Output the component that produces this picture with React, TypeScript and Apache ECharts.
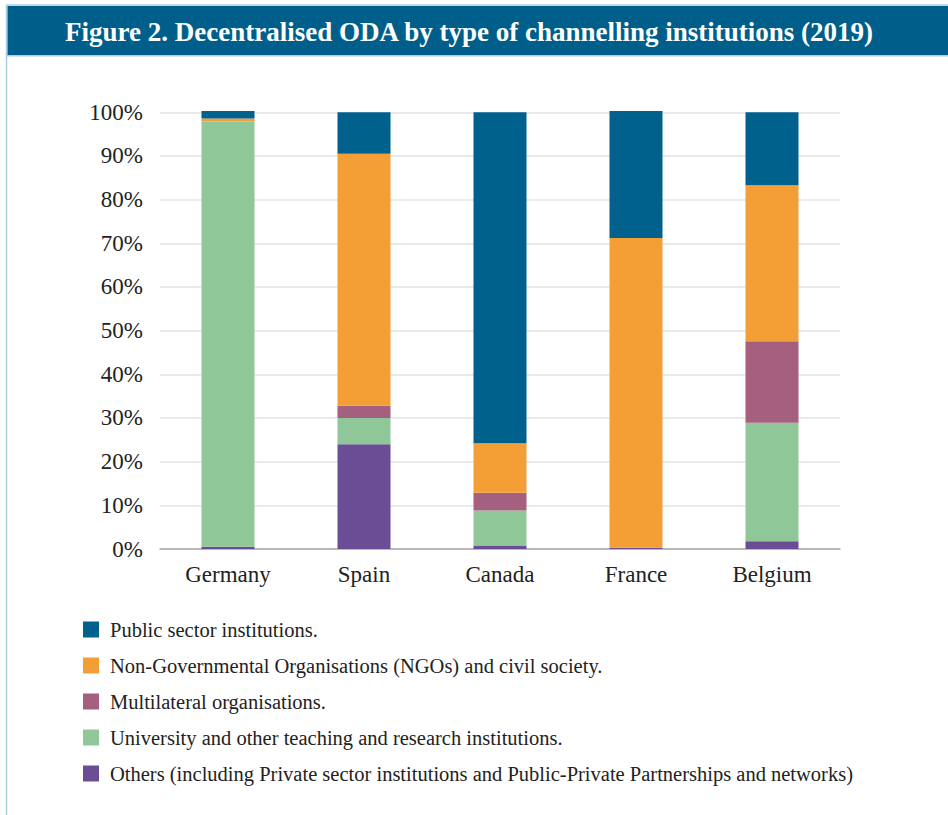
import React, { useEffect, useRef } from "react";
import * as echarts from "echarts";

const countries = ["Germany", "Spain", "Canada", "France", "Belgium"];
const yTicks = [0, 10, 20, 30, 40, 50, 60, 70, 80, 90, 100];

const seriesNames = [
  "Public sector institutions.",
  "Non-Governmental Organisations (NGOs) and civil society.",
  "Multilateral organisations.",
  "University and other teaching and research institutions.",
  "Others (including Private sector institutions and Public-Private Partnerships and networks)",
];

// values in % (stacked bottom → top: others, university, multilateral, NGO, public)
const othersValues = [0.5, 24.0, 0.8, 0.3, 1.8];
const universityValues = [97.4, 6.0, 8.0, 0.0, 27.1];
const multilateralValues = [0.0, 2.8, 4.1, 0.0, 18.7];
const ngoValues = [0.7, 57.7, 11.3, 70.9, 35.7];
const publicValues = [1.7, 9.5, 75.8, 29.1, 16.7];

const colors = {
  public: "#00618C",
  ngo: "#F49F35",
  multilateral: "#A6607F",
  university: "#8FC799",
  others: "#6A4D95",
};

const FONT = "'Liberation Serif', 'DejaVu Serif', serif";

export default function App() {
  const ref = useRef<HTMLDivElement>(null);

  useEffect(() => {
    document.body.style.margin = "0";
    const chart = echarts.init(ref.current!, undefined, { renderer: "svg" });
    const mk = (name: string, data: number[], color: string) => ({
      name,
      type: "bar",
      stack: "total",
      data,
      barWidth: 53,
      clip: false,
      itemStyle: { color },
      emphasis: { disabled: true },
    });
    chart.setOption({
      animation: false,
      backgroundColor: "#ffffff",
      textStyle: { fontFamily: FONT },
      graphic: [
        { type: "line", shape: { x1: 6.5, y1: 5, x2: 6.5, y2: 815 }, style: { stroke: "#a9cfe3", lineWidth: 1.5 } },
        { type: "line", shape: { x1: 6, y1: 5, x2: 948, y2: 5 }, style: { stroke: "#a9cfe3", lineWidth: 1.5 } },
        { type: "rect", shape: { x: 7.5, y: 6, width: 941, height: 49 }, style: { fill: "#005F8A" } },
        { type: "line", shape: { x1: 7, y1: 55.8, x2: 948, y2: 55.8 }, style: { stroke: "#a9cfe3", lineWidth: 1.5 } },
        {
          type: "text",
          x: 469,
          y: 32,
          style: {
            text: "Figure 2. Decentralised ODA by type of channelling institutions (2019)",
            fill: "#ffffff",
            font: `bold 27px ${FONT}`,
            align: "center",
            verticalAlign: "middle",
          },
        },
      ],
      grid: { left: 160, right: 108, top: 112.3, bottom: 266 },
      legend: {
        orient: "vertical",
        left: 83,
        top: 619,
        padding: 0,
        itemWidth: 16,
        itemHeight: 16,
        itemGap: 15,
        icon: "rect",
        data: seriesNames,
        selectedMode: false,
        textStyle: { fontFamily: FONT, fontSize: 20.5, color: "#222", padding: [0, 0, 0, 6] },
      },
      xAxis: {
        type: "category",
        data: countries,
        axisLine: { lineStyle: { color: "#a8a8a8", width: 1.5 } },
        axisTick: { show: false },
        axisLabel: { fontFamily: FONT, fontSize: 23, color: "#222", margin: 14 },
      },
      yAxis: {
        type: "value",
        min: yTicks[0],
        max: yTicks[yTicks.length - 1],
        interval: 10,
        axisLine: { show: false },
        axisTick: { show: false },
        axisLabel: { fontFamily: FONT, fontSize: 23, color: "#222", margin: 17, formatter: "{value}%" },
        splitLine: { lineStyle: { color: "#e3e3e3", width: 1.5 } },
      },
      series: [
        mk(seriesNames[4], othersValues, colors.others),
        mk(seriesNames[3], universityValues, colors.university),
        mk(seriesNames[2], multilateralValues, colors.multilateral),
        mk(seriesNames[1], ngoValues, colors.ngo),
        mk(seriesNames[0], publicValues, colors.public),
      ],
    });
    return () => chart.dispose();
  }, []);

  return <div ref={ref} style={{ position: "absolute", left: 0, top: 0, width: 948, height: 815 }} />;
}
